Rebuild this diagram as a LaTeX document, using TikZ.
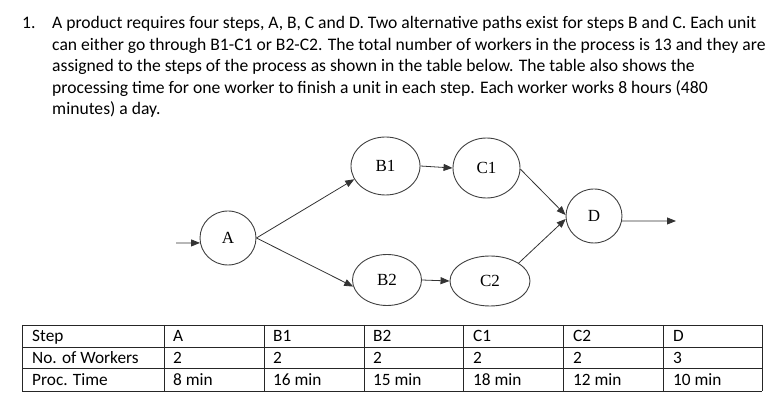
\documentclass[tikz,border=0pt]{standalone}
\usepackage{fontspec}
\setmainfont{Carlito}
\newfontfamily\timesf{Liberation Serif}
\usetikzlibrary{arrows.meta,shapes.geometric}
\begin{document}
\begin{tikzpicture}[x=1pt,y=-1pt,
  proc/.style={draw=black!75, line width=0.9pt, ellipse, inner sep=0pt, font=\timesf\fontsize{17}{17}\selectfont},
  arr/.style={draw=black!80, line width=0.8pt, -{Triangle[length=9pt,width=7pt]}},
  para/.style={anchor=base west, inner sep=0pt, font=\fontsize{17.6}{20}\selectfont},
  cell/.style={anchor=base west, inner sep=0pt, font=\fontsize{17.3}{20}\selectfont},
  grid/.style={draw=black!85, line width=0.9pt}]
\useasboundingbox (0,0) rectangle (780,411);
% paragraph
\node[para] (n1) at (22,29) {1.};
\node[para] (l1) at (52,29) {A product requires four steps, A, B, C and D. Two alternative paths exist for steps B and C. Each unit};
\node[para] (l2) at (52,50.5) {can either go through B1-C1 or B2-C2. The total number of workers in the process is 13 and they are};
\node[para] (l3) at (52,72) {assigned to the steps of the process as shown in the table below. The table also shows the};
\node[para] (l4) at (52,93.5) {processing time for one worker to finish a unit in each step. Each worker works 8 hours (480};
\node[para] (l5) at (52,115) {minutes) a day.};
% process nodes
\node[proc, minimum width=56pt, minimum height=54pt] (A) at (228,238) {A};
\node[proc, minimum width=69pt, minimum height=58pt] (B1) at (385.5,166) {B1};
\node[proc, minimum width=69pt, minimum height=51pt] (B2) at (387,280) {B2};
\node[proc, minimum width=67pt, minimum height=60pt] (C1) at (486.5,168) {C1};
\node[proc, minimum width=80pt, minimum height=50pt] (C2) at (490,281) {C2};
\node[proc, minimum width=56pt, minimum height=54pt] (D) at (594,216) {D};
\coordinate (in) at (176,243);
\coordinate (out) at (676,221);
\draw[arr] (in) -- (A.190);
\draw[arr] (A.east) -- (B1.203);
\draw[arr] (A.east) -- (B2.191);
\draw[arr] (B1.east) -- (C1.west);
\draw[arr] (B2.east) -- (C2.west);
\draw[arr] (C1.358) -- (D.178);
\draw[arr] (C2.32) -- (D.186);
\draw[arr] (D.350) -- (out);
% table
\foreach \yy in {325,347,368,391} \draw[grid] (22,\yy) -- (762,\yy);
\foreach \xx in {22,164,264,364,463,563,663,762} \draw[grid] (\xx,325) -- (\xx,391);
\node[cell] (t11) at (32,342) {Step};
\node[cell] (t12) at (173,342) {A};
\node[cell] (t13) at (273,342) {B1};
\node[cell] (t14) at (373,342) {B2};
\node[cell] (t15) at (473,342) {C1};
\node[cell] (t16) at (573,342) {C2};
\node[cell] (t17) at (673,342) {D};
\node[cell] (t21) at (32,364) {No. of Workers};
\node[cell] (t22) at (173,364) {2};
\node[cell] (t23) at (273,364) {2};
\node[cell] (t24) at (373,364) {2};
\node[cell] (t25) at (473,364) {2};
\node[cell] (t26) at (573,364) {2};
\node[cell] (t27) at (673,364) {3};
\node[cell] (t31) at (32,386) {Proc. Time};
\node[cell] (t32) at (173,386) {8 min};
\node[cell] (t33) at (273,386) {16 min};
\node[cell] (t34) at (373,386) {15 min};
\node[cell] (t35) at (473,386) {18 min};
\node[cell] (t36) at (573,386) {12 min};
\node[cell] (t37) at (673,386) {10 min};
\end{tikzpicture}
\end{document}
